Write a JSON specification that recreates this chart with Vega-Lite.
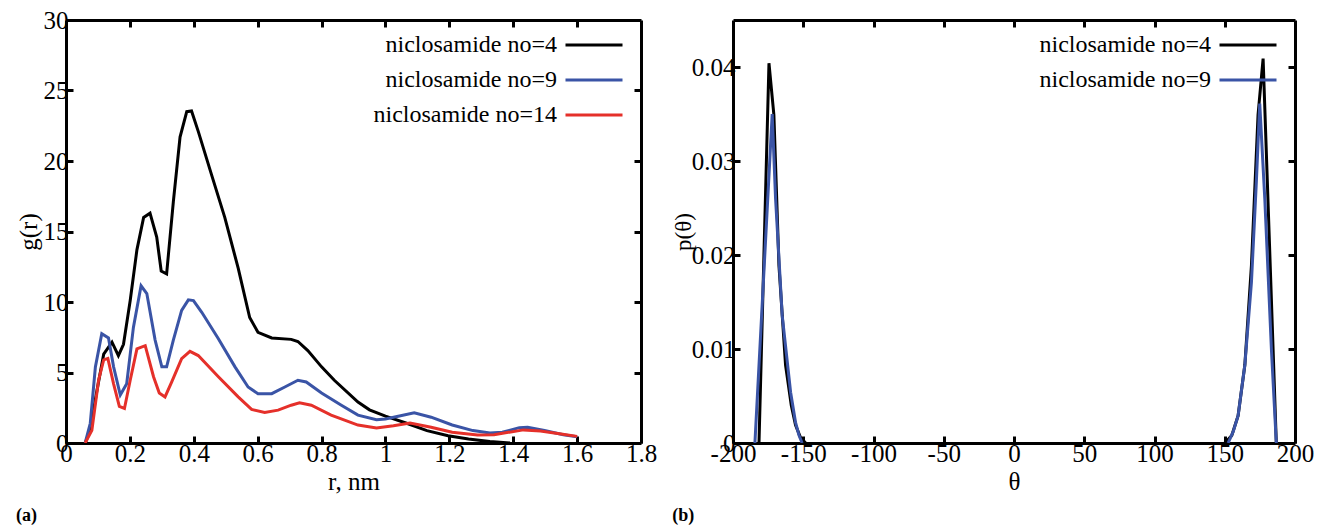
{
  "$schema": "https://vega.github.io/schema/vega-lite/v6.json",
  "background": "white",
  "padding": {"left": 16, "top": 8, "right": 2, "bottom": 2},
  "bounds": "flush",
  "spacing": 92,
  "datasets": {
    "gr": [
      {"s": "niclosamide no=4", "r": 0.06, "g": 0}, {"s": "niclosamide no=4", "r": 0.076, "g": 0.9}, {"s": "niclosamide no=4", "r": 0.095, "g": 3.5}, {"s": "niclosamide no=4", "r": 0.118, "g": 6.3}, {"s": "niclosamide no=4", "r": 0.144, "g": 7.15}, {"s": "niclosamide no=4", "r": 0.164, "g": 6.2}, {"s": "niclosamide no=4", "r": 0.18, "g": 7.0}, {"s": "niclosamide no=4", "r": 0.201, "g": 10.1}, {"s": "niclosamide no=4", "r": 0.222, "g": 13.7}, {"s": "niclosamide no=4", "r": 0.243, "g": 16.0}, {"s": "niclosamide no=4", "r": 0.263, "g": 16.3}, {"s": "niclosamide no=4", "r": 0.284, "g": 14.6}, {"s": "niclosamide no=4", "r": 0.298, "g": 12.2}, {"s": "niclosamide no=4", "r": 0.315, "g": 12.0}, {"s": "niclosamide no=4", "r": 0.336, "g": 17.1}, {"s": "niclosamide no=4", "r": 0.357, "g": 21.7}, {"s": "niclosamide no=4", "r": 0.378, "g": 23.5}, {"s": "niclosamide no=4", "r": 0.393, "g": 23.55}, {"s": "niclosamide no=4", "r": 0.414, "g": 22.1}, {"s": "niclosamide no=4", "r": 0.456, "g": 19.0}, {"s": "niclosamide no=4", "r": 0.497, "g": 16.0}, {"s": "niclosamide no=4", "r": 0.539, "g": 12.4}, {"s": "niclosamide no=4", "r": 0.575, "g": 8.9}, {"s": "niclosamide no=4", "r": 0.601, "g": 7.85}, {"s": "niclosamide no=4", "r": 0.644, "g": 7.45}, {"s": "niclosamide no=4", "r": 0.705, "g": 7.35}, {"s": "niclosamide no=4", "r": 0.726, "g": 7.2}, {"s": "niclosamide no=4", "r": 0.757, "g": 6.55}, {"s": "niclosamide no=4", "r": 0.8, "g": 5.4}, {"s": "niclosamide no=4", "r": 0.84, "g": 4.45}, {"s": "niclosamide no=4", "r": 0.914, "g": 2.9}, {"s": "niclosamide no=4", "r": 0.95, "g": 2.35}, {"s": "niclosamide no=4", "r": 1.0, "g": 1.9}, {"s": "niclosamide no=4", "r": 1.064, "g": 1.42}, {"s": "niclosamide no=4", "r": 1.13, "g": 0.88}, {"s": "niclosamide no=4", "r": 1.196, "g": 0.52}, {"s": "niclosamide no=4", "r": 1.26, "g": 0.28}, {"s": "niclosamide no=4", "r": 1.327, "g": 0.1}, {"s": "niclosamide no=4", "r": 1.39, "g": 0},
      {"s": "niclosamide no=9", "r": 0.06, "g": 0}, {"s": "niclosamide no=9", "r": 0.076, "g": 1.4}, {"s": "niclosamide no=9", "r": 0.092, "g": 5.4}, {"s": "niclosamide no=9", "r": 0.112, "g": 7.75}, {"s": "niclosamide no=9", "r": 0.133, "g": 7.45}, {"s": "niclosamide no=9", "r": 0.149, "g": 5.4}, {"s": "niclosamide no=9", "r": 0.17, "g": 3.4}, {"s": "niclosamide no=9", "r": 0.19, "g": 4.2}, {"s": "niclosamide no=9", "r": 0.211, "g": 8.2}, {"s": "niclosamide no=9", "r": 0.235, "g": 11.15}, {"s": "niclosamide no=9", "r": 0.253, "g": 10.6}, {"s": "niclosamide no=9", "r": 0.279, "g": 7.3}, {"s": "niclosamide no=9", "r": 0.3, "g": 5.4}, {"s": "niclosamide no=9", "r": 0.315, "g": 5.4}, {"s": "niclosamide no=9", "r": 0.336, "g": 7.3}, {"s": "niclosamide no=9", "r": 0.362, "g": 9.4}, {"s": "niclosamide no=9", "r": 0.383, "g": 10.15}, {"s": "niclosamide no=9", "r": 0.399, "g": 10.1}, {"s": "niclosamide no=9", "r": 0.425, "g": 9.27}, {"s": "niclosamide no=9", "r": 0.477, "g": 7.4}, {"s": "niclosamide no=9", "r": 0.529, "g": 5.4}, {"s": "niclosamide no=9", "r": 0.57, "g": 3.97}, {"s": "niclosamide no=9", "r": 0.601, "g": 3.5}, {"s": "niclosamide no=9", "r": 0.644, "g": 3.5}, {"s": "niclosamide no=9", "r": 0.685, "g": 3.97}, {"s": "niclosamide no=9", "r": 0.726, "g": 4.45}, {"s": "niclosamide no=9", "r": 0.752, "g": 4.33}, {"s": "niclosamide no=9", "r": 0.8, "g": 3.55}, {"s": "niclosamide no=9", "r": 0.862, "g": 2.68}, {"s": "niclosamide no=9", "r": 0.914, "g": 1.98}, {"s": "niclosamide no=9", "r": 0.972, "g": 1.65}, {"s": "niclosamide no=9", "r": 1.0, "g": 1.7}, {"s": "niclosamide no=9", "r": 1.04, "g": 1.9}, {"s": "niclosamide no=9", "r": 1.09, "g": 2.14}, {"s": "niclosamide no=9", "r": 1.143, "g": 1.83}, {"s": "niclosamide no=9", "r": 1.209, "g": 1.28}, {"s": "niclosamide no=9", "r": 1.274, "g": 0.88}, {"s": "niclosamide no=9", "r": 1.327, "g": 0.71}, {"s": "niclosamide no=9", "r": 1.366, "g": 0.76}, {"s": "niclosamide no=9", "r": 1.419, "g": 1.09}, {"s": "niclosamide no=9", "r": 1.445, "g": 1.12}, {"s": "niclosamide no=9", "r": 1.498, "g": 0.88}, {"s": "niclosamide no=9", "r": 1.557, "g": 0.59}, {"s": "niclosamide no=9", "r": 1.6, "g": 0.45},
      {"s": "niclosamide no=14", "r": 0.06, "g": 0}, {"s": "niclosamide no=14", "r": 0.081, "g": 0.9}, {"s": "niclosamide no=14", "r": 0.102, "g": 4.45}, {"s": "niclosamide no=14", "r": 0.118, "g": 5.9}, {"s": "niclosamide no=14", "r": 0.131, "g": 6.0}, {"s": "niclosamide no=14", "r": 0.149, "g": 4.2}, {"s": "niclosamide no=14", "r": 0.167, "g": 2.6}, {"s": "niclosamide no=14", "r": 0.183, "g": 2.45}, {"s": "niclosamide no=14", "r": 0.201, "g": 4.45}, {"s": "niclosamide no=14", "r": 0.222, "g": 6.68}, {"s": "niclosamide no=14", "r": 0.248, "g": 6.9}, {"s": "niclosamide no=14", "r": 0.274, "g": 4.7}, {"s": "niclosamide no=14", "r": 0.292, "g": 3.55}, {"s": "niclosamide no=14", "r": 0.31, "g": 3.27}, {"s": "niclosamide no=14", "r": 0.331, "g": 4.33}, {"s": "niclosamide no=14", "r": 0.362, "g": 5.98}, {"s": "niclosamide no=14", "r": 0.388, "g": 6.5}, {"s": "niclosamide no=14", "r": 0.414, "g": 6.2}, {"s": "niclosamide no=14", "r": 0.477, "g": 4.7}, {"s": "niclosamide no=14", "r": 0.539, "g": 3.27}, {"s": "niclosamide no=14", "r": 0.581, "g": 2.38}, {"s": "niclosamide no=14", "r": 0.622, "g": 2.16}, {"s": "niclosamide no=14", "r": 0.664, "g": 2.33}, {"s": "niclosamide no=14", "r": 0.705, "g": 2.68}, {"s": "niclosamide no=14", "r": 0.731, "g": 2.85}, {"s": "niclosamide no=14", "r": 0.768, "g": 2.68}, {"s": "niclosamide no=14", "r": 0.83, "g": 1.98}, {"s": "niclosamide no=14", "r": 0.914, "g": 1.27}, {"s": "niclosamide no=14", "r": 0.972, "g": 1.07}, {"s": "niclosamide no=14", "r": 1.025, "g": 1.23}, {"s": "niclosamide no=14", "r": 1.077, "g": 1.42}, {"s": "niclosamide no=14", "r": 1.143, "g": 1.12}, {"s": "niclosamide no=14", "r": 1.209, "g": 0.76}, {"s": "niclosamide no=14", "r": 1.288, "g": 0.57}, {"s": "niclosamide no=14", "r": 1.34, "g": 0.59}, {"s": "niclosamide no=14", "r": 1.432, "g": 0.93}, {"s": "niclosamide no=14", "r": 1.485, "g": 0.85}, {"s": "niclosamide no=14", "r": 1.55, "g": 0.64}, {"s": "niclosamide no=14", "r": 1.6, "g": 0.47}
    ],
    "pt": [
      {"s": "niclosamide no=4", "seg": "a", "t": -181.5, "p": 0}, {"s": "niclosamide no=4", "seg": "a", "t": -174.4, "p": 0.0404}, {"s": "niclosamide no=4", "seg": "a", "t": -170.9, "p": 0.0349}, {"s": "niclosamide no=4", "seg": "a", "t": -167.3, "p": 0.0189}, {"s": "niclosamide no=4", "seg": "a", "t": -162.6, "p": 0.0083}, {"s": "niclosamide no=4", "seg": "a", "t": -158.5, "p": 0.004}, {"s": "niclosamide no=4", "seg": "a", "t": -155.5, "p": 0.0019}, {"s": "niclosamide no=4", "seg": "a", "t": -152, "p": 0.0006}, {"s": "niclosamide no=4", "seg": "a", "t": -148.3, "p": 0},
      {"s": "niclosamide no=4", "seg": "b", "t": 150, "p": 0}, {"s": "niclosamide no=4", "seg": "b", "t": 155, "p": 0.0008}, {"s": "niclosamide no=4", "seg": "b", "t": 159.5, "p": 0.0029}, {"s": "niclosamide no=4", "seg": "b", "t": 164.3, "p": 0.0083}, {"s": "niclosamide no=4", "seg": "b", "t": 169, "p": 0.0189}, {"s": "niclosamide no=4", "seg": "b", "t": 173.7, "p": 0.0349}, {"s": "niclosamide no=4", "seg": "b", "t": 177.3, "p": 0.0409}, {"s": "niclosamide no=4", "seg": "b", "t": 186.7, "p": 0},
      {"s": "niclosamide no=9", "seg": "a", "t": -184.4, "p": 0}, {"s": "niclosamide no=9", "seg": "a", "t": -172.1, "p": 0.035}, {"s": "niclosamide no=9", "seg": "a", "t": -169.7, "p": 0.026}, {"s": "niclosamide no=9", "seg": "a", "t": -165, "p": 0.0136}, {"s": "niclosamide no=9", "seg": "a", "t": -159, "p": 0.0054}, {"s": "niclosamide no=9", "seg": "a", "t": -155.5, "p": 0.0022}, {"s": "niclosamide no=9", "seg": "a", "t": -153.1, "p": 0.00085}, {"s": "niclosamide no=9", "seg": "a", "t": -150.8, "p": 0},
      {"s": "niclosamide no=9", "seg": "b", "t": 152.4, "p": 0}, {"s": "niclosamide no=9", "seg": "b", "t": 156, "p": 0.0012}, {"s": "niclosamide no=9", "seg": "b", "t": 159.5, "p": 0.0029}, {"s": "niclosamide no=9", "seg": "b", "t": 164.3, "p": 0.0083}, {"s": "niclosamide no=9", "seg": "b", "t": 169, "p": 0.0171}, {"s": "niclosamide no=9", "seg": "b", "t": 172.5, "p": 0.0278}, {"s": "niclosamide no=9", "seg": "b", "t": 174.9, "p": 0.0361}, {"s": "niclosamide no=9", "seg": "b", "t": 178.5, "p": 0.026}, {"s": "niclosamide no=9", "seg": "b", "t": 183.2, "p": 0.01}, {"s": "niclosamide no=9", "seg": "b", "t": 186.7, "p": 0}
    ]
  },
  "hconcat": [
    {
      "width": 575,
      "height": 423,
      "title": {"text": "(a)", "orient": "bottom", "anchor": "start", "frame": "bounds", "font": "Liberation Serif", "fontSize": 18, "fontWeight": "bold", "color": "black", "offset": 13},
      "data": {"name": "gr"},
      "layer": [
        {
          "mark": {"type": "line", "strokeWidth": 3, "clip": true},
          "encoding": {
            "x": {"field": "r", "type": "quantitative", "scale": {"domain": [0, 1.8], "nice": false, "zero": false},
                  "axis": {"title": "r, nm", "values": [0, 0.2, 0.4, 0.6, 0.8, 1, 1.2, 1.4, 1.6, 1.8], "format": "~f", "labelFlush": false}},
            "y": {"field": "g", "type": "quantitative", "scale": {"domain": [0, 30], "nice": false},
                  "axis": {"title": "g(r)", "values": [0, 5, 10, 15, 20, 25, 30], "format": "~f", "titlePadding": 2}},
            "color": {"field": "s", "type": "nominal",
                      "scale": {"domain": ["niclosamide no=4", "niclosamide no=9", "niclosamide no=14"], "range": ["#000000", "#3a54a6", "#e5302a"]},
                      "legend": {"orient": "top-right", "offset": 12, "title": null, "symbolType": "M-2.5,0H2.5", "symbolSize": 520, "symbolStrokeWidth": 3, "labelAlign": "right", "labelOffset": -50, "labelFont": "Liberation Serif", "labelFontSize": 24, "labelColor": "black", "labelLimit": 0, "rowPadding": 10}}
          }
        },
        {
          "mark": {"type": "line", "opacity": 0},
          "encoding": {
            "x": {"field": "r", "type": "quantitative", "scale": {"domain": [0, 1.8], "nice": false, "zero": false},
                  "axis": {"orient": "top", "title": null, "labels": false, "values": [0.2, 0.4, 0.6, 0.8, 1, 1.2, 1.4, 1.6]}},
            "y": {"field": "g", "type": "quantitative", "scale": {"domain": [0, 30], "nice": false},
                  "axis": {"orient": "right", "title": null, "labels": false, "values": [5, 10, 15, 20, 25]}},
            "detail": {"field": "s"}
          }
        }
      ],
      "resolve": {"axis": {"x": "independent", "y": "independent"}}
    },
    {
      "width": 562,
      "height": 423,
      "title": {"text": "(b)", "orient": "bottom", "anchor": "start", "frame": "bounds", "font": "Liberation Serif", "fontSize": 18, "fontWeight": "bold", "color": "black", "offset": 13},
      "data": {"name": "pt"},
      "layer": [
        {
          "mark": {"type": "line", "strokeWidth": 3, "clip": true},
          "encoding": {
            "x": {"field": "t", "type": "quantitative", "scale": {"domain": [-200, 200], "nice": false},
                  "axis": {"title": "θ", "values": [-200, -150, -100, -50, 0, 50, 100, 150, 200], "format": "~f", "labelFlush": false}},
            "y": {"field": "p", "type": "quantitative", "scale": {"domain": [0, 0.045], "nice": false},
                  "axis": {"title": "p(θ)", "values": [0, 0.01, 0.02, 0.03, 0.04], "format": "~f", "titlePadding": -4, "titleFontSize": 23}},
            "color": {"field": "s", "type": "nominal",
                      "scale": {"domain": ["niclosamide no=4", "niclosamide no=9"], "range": ["#000000", "#3a54a6"]},
                      "legend": {"orient": "top-right", "offset": 12, "title": null, "symbolType": "M-2.5,0H2.5", "symbolSize": 520, "symbolStrokeWidth": 3, "labelAlign": "right", "labelOffset": -50, "labelFont": "Liberation Serif", "labelFontSize": 24, "labelColor": "black", "labelLimit": 0, "rowPadding": 10}},
            "detail": {"field": "seg"}
          }
        },
        {
          "mark": {"type": "line", "opacity": 0},
          "encoding": {
            "x": {"field": "t", "type": "quantitative", "scale": {"domain": [-200, 200], "nice": false},
                  "axis": {"orient": "top", "title": null, "labels": false, "values": [-150, -100, -50, 0, 50, 100, 150]}},
            "y": {"field": "p", "type": "quantitative", "scale": {"domain": [0, 0.045], "nice": false},
                  "axis": {"orient": "right", "title": null, "labels": false, "values": [0.01, 0.02, 0.03, 0.04]}},
            "detail": {"field": "s"}
          }
        }
      ],
      "resolve": {"axis": {"x": "independent", "y": "independent"}}
    }
  ],
  "resolve": {"scale": {"color": "independent"}, "legend": {"color": "independent"}},
  "config": {
    "locale": {"number": {"decimal": ".", "thousands": ",", "grouping": [3], "currency": ["", ""], "minus": "-"}},
    "view": {"stroke": null},
    "axis": {"labelFont": "Liberation Serif", "labelFontSize": 25, "labelColor": "black", "titleFont": "Liberation Serif", "titleFontSize": 25, "titleFontWeight": "normal", "titleColor": "black", "domainColor": "black", "domainWidth": 3, "tickColor": "black", "tickWidth": 3, "tickSize": -7, "grid": false, "labelPadding": 5, "titlePadding": 3, "zindex": 1}
  }
}
